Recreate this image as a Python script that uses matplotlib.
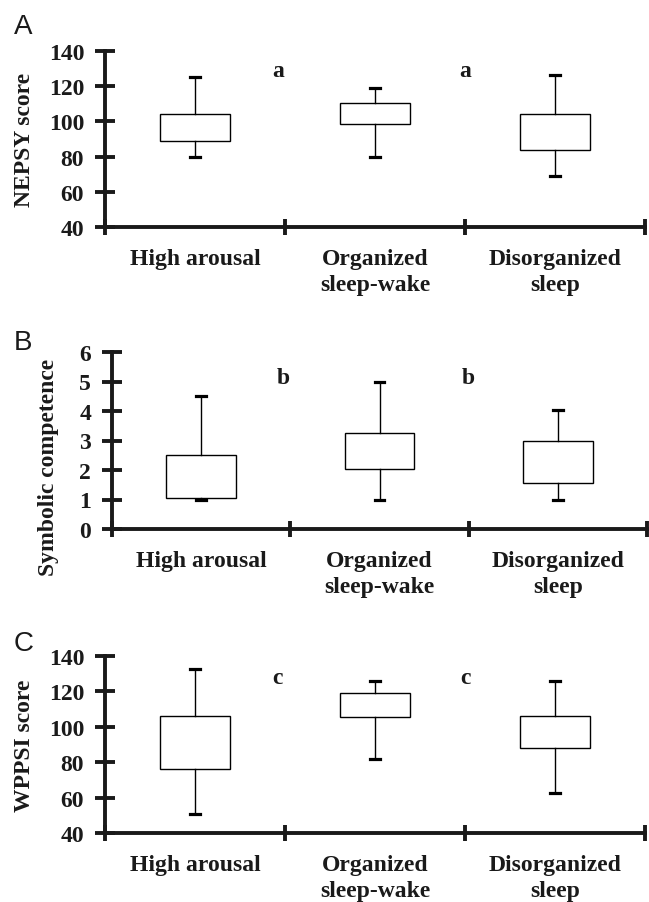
import matplotlib.pyplot as plt

plt.rcParams['font.family'] = ['Liberation Serif', 'DejaVu Serif']

groups = ['High arousal', 'Organized\nsleep-wake', 'Disorganized\nsleep']

# box summaries: whisker low, q1, q3, whisker high
nepsy_lo = [80, 80, 69]
nepsy_q1 = [89, 98.5, 83.5]
nepsy_q3 = [104, 110.5, 104]
nepsy_hi = [125, 119, 126.5]

symb_lo = [1.0, 1.0, 1.0]
symb_q1 = [1.05, 2.05, 1.55]
symb_q3 = [2.5, 3.25, 3.0]
symb_hi = [4.5, 5.0, 4.05]

wppsi_lo = [51, 82, 62.5]
wppsi_q1 = [76, 105.5, 88]
wppsi_q3 = [106, 119, 106]
wppsi_hi = [132.5, 126, 126]

panels = [
    dict(tag='A', ylabel='NEPSY score', lo=nepsy_lo, q1=nepsy_q1, q3=nepsy_q3, hi=nepsy_hi,
         ylim=(40, 140), yticks=range(40, 141, 20), letter='a', letter_y=129.2,
         rect=[105/649, 1-228/903, 540/649, 176/903], lab=(24, 140), tagpos=(14, 14)),
    dict(tag='B', ylabel='Symbolic competence', lo=symb_lo, q1=symb_q1, q3=symb_q3, hi=symb_hi,
         ylim=(0, 6), yticks=range(0, 7), letter='b', letter_y=5.15,
         rect=[112/649, 1-530/903, 535/649, 177/903], lab=(49, 467), tagpos=(14, 330)),
    dict(tag='C', ylabel='WPPSI score', lo=wppsi_lo, q1=wppsi_q1, q3=wppsi_q3, hi=wppsi_hi,
         ylim=(40, 140), yticks=range(40, 141, 20), letter='c', letter_y=128.1,
         rect=[105/649, 1-834/903, 540/649, 177/903], lab=(25, 746), tagpos=(14, 631)),
]

fig = plt.figure(figsize=(6.49, 9.03), dpi=100)

for p in panels:
    ax = fig.add_axes(p['rect'])
    stats = []
    for lo, q1, q3, hi in zip(p['lo'], p['q1'], p['q3'], p['hi']):
        stats.append(dict(whislo=lo, q1=q1, med=q1, q3=q3, whishi=hi))
    ax.bxp(stats, positions=[0.5, 1.5, 2.5], widths=0.39, capwidths=0.055,
           patch_artist=True, showfliers=False, manage_ticks=False,
           boxprops=dict(facecolor='white', edgecolor='black', linewidth=1),
           whiskerprops=dict(color='black', linewidth=1),
           capprops=dict(color='black', linewidth=2.3),
           medianprops=dict(visible=False))

    ax.set_xlim(0, 3)
    ax.set_ylim(*p['ylim'])
    for s in ['top', 'right']:
        ax.spines[s].set_visible(False)
    for s in ['left', 'bottom']:
        ax.spines[s].set_linewidth(2.8)
        ax.spines[s].set_color('#1a1a1a')

    ax.set_yticks(list(p['yticks']))
    ax.set_xticks([0, 1, 2, 3])
    ax.set_xticklabels([])
    ax.set_xticks([0.5, 1.5, 2.5], groups, minor=True)
    ax.tick_params(axis='y', direction='inout', length=14, width=2.8, pad=8,
                   labelsize=17, color='#1a1a1a')
    ax.tick_params(axis='x', which='major', direction='inout', length=12, width=2.8,
                   color='#1a1a1a')
    ax.tick_params(axis='x', which='minor', length=0, pad=15, labelsize=17)
    for t in ax.get_yticklabels() + ax.get_xticklabels(minor=True):
        t.set_fontweight('bold')
        t.set_color('#1a1a1a')
    for t in ax.get_xticklabels(minor=True):
        t.set_linespacing(1.3)

    for xl in [0.96, 2.0]:
        ax.text(xl, p['letter_y'], p['letter'], ha='center', va='center',
                fontsize=17, fontweight='bold', color='#1a1a1a')

    fig.text(p['lab'][0]/649, 1-p['lab'][1]/903, p['ylabel'], rotation=90,
             ha='center', va='center', fontsize=17, fontweight='bold', color='#1a1a1a')
    fig.text(p['tagpos'][0]/649, 1-p['tagpos'][1]/903, p['tag'], ha='left', va='top',
             fontsize=20, family='Liberation Sans', color='#1a1a1a')

fig.savefig('out.png', dpi=100)
